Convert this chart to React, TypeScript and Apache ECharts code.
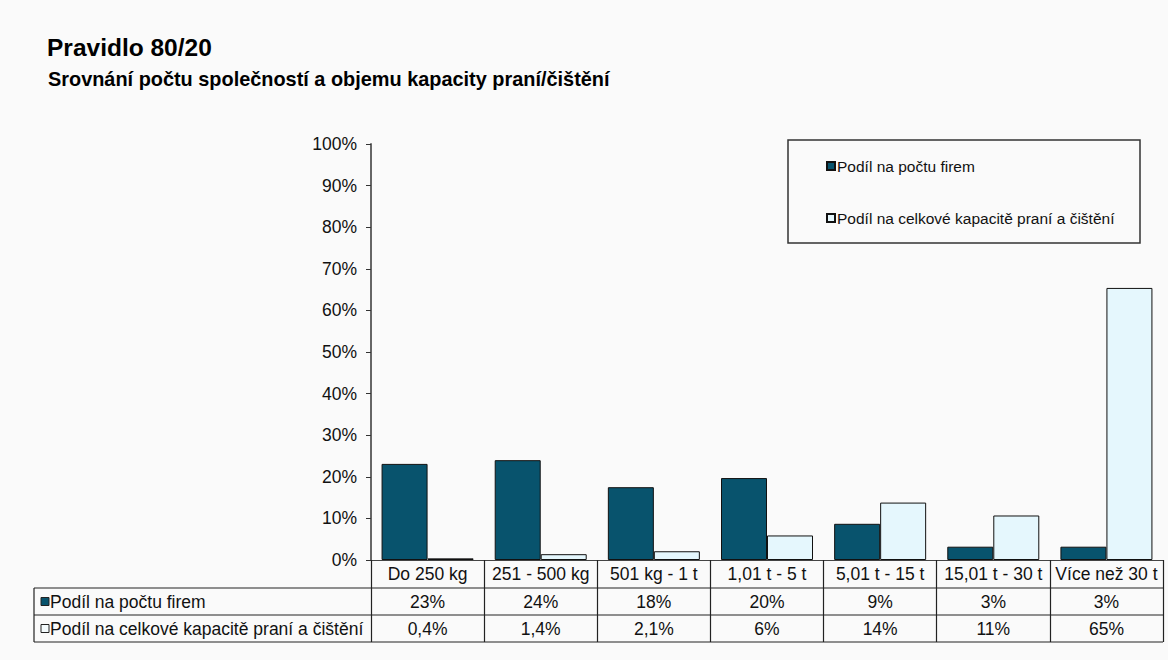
import React, { useEffect, useRef } from "react";
import * as echarts from "echarts";

const categories = ["Do 250 kg", "251 - 500 kg", "501 kg - 1 t", "1,01 t - 5 t", "5,01 t - 15 t", "15,01 t - 30 t", "Více než 30 t"];
const firmShare = [23.1, 24.0, 17.5, 19.7, 8.7, 3.2, 3.2];
const capacityShare = [0.4, 1.4, 2.1, 5.9, 13.8, 10.7, 65.4];
const firmShareLabels = ["23%", "24%", "18%", "20%", "9%", "3%", "3%"];
const capacityShareLabels = ["0,4%", "1,4%", "2,1%", "6%", "14%", "11%", "65%"];
const seriesNames = ["Podíl na počtu firem", "Podíl na celkové kapacitě praní a čištění"];
const titleText = "Pravidlo 80/20";
const subtitleText = "Srovnání počtu společností a objemu kapacity praní/čištění";

const FONT = "'Liberation Sans', Arial, Helvetica, sans-serif";
const DARK = "#08536d";
const LIGHT = "#e5f7fd";
const FS = 17.5;

export default function App() {
  const ref = useRef<HTMLDivElement>(null);
  useEffect(() => {
    if (!ref.current) return;
    const chart = echarts.init(ref.current, null, { renderer: "svg" });
    const gL = 371, gR = 1163, gT = 144, gB = 560;
    const tableLeft = 34;
    const rowLines = [588, 615, 642];
    const rowCenters = [601.5, 628.5];
    const rowColors = [DARK, "#f4fbfd"];

    const graphic: any[] = [
      { type: "text", x: 47, y: 47, style: { text: titleText, font: `bold 24.5px ${FONT}`, fill: "#000", textVerticalAlign: "middle" } },
      { type: "text", x: 48, y: 79, style: { text: subtitleText, font: `bold 19.9px ${FONT}`, fill: "#000", textVerticalAlign: "middle" } },
      { type: "rect", shape: { x: 788, y: 140, width: 352, height: 103 }, style: { fill: "transparent", stroke: "#333", lineWidth: 1.5 } },
      { type: "line", shape: { x1: tableLeft, y1: rowLines[0], x2: tableLeft, y2: rowLines[2] }, style: { stroke: "#222", lineWidth: 1.2 } },
    ];
    rowLines.forEach((y) => {
      graphic.push({ type: "line", shape: { x1: tableLeft, y1: y, x2: gR, y2: y }, style: { stroke: "#222", lineWidth: 1.2 } });
    });
    seriesNames.forEach((name, i) => {
      graphic.push({ type: "rect", shape: { x: 41, y: rowCenters[i] - 4, width: 8, height: 8 }, style: { fill: rowColors[i], stroke: "#222", lineWidth: 1 } });
      graphic.push({ type: "text", x: 50, y: rowCenters[i], style: { text: name, font: `${FS}px ${FONT}`, fill: "#111", textVerticalAlign: "middle" } });
    });

    const tableAxis = (data: string[], offset: number) => ({
      type: "category",
      data,
      gridIndex: 0,
      position: "bottom",
      offset,
      axisLine: { show: false },
      axisTick: { show: false },
      axisLabel: { interval: 0, margin: 5, fontSize: FS, fontFamily: FONT, color: "#111" },
    });

    chart.setOption({
      animation: false,
      backgroundColor: "#fafafa",
      textStyle: { fontFamily: FONT },
      grid: { left: gL, right: 1168 - gR, top: gT, bottom: 660 - gB, containLabel: false },
      legend: {
        orient: "vertical",
        left: 821,
        top: 153,
        itemGap: 36,
        itemWidth: 8,
        itemHeight: 8,
        icon: "rect",
        textStyle: { fontSize: 15.5, fontFamily: FONT, color: "#111", padding: [0, 0, 0, -3] },
        data: seriesNames,
      },
      xAxis: [
        {
          type: "category",
          data: categories,
          boundaryGap: true,
          axisLine: { show: true, lineStyle: { color: "#444", width: 1.2 } },
          axisTick: { show: true, length: 82, lineStyle: { color: "#222", width: 1.2 } },
          axisLabel: { interval: 0, margin: 5, fontSize: FS, fontFamily: FONT, color: "#111" },
        },
        tableAxis(firmShareLabels, 28),
        tableAxis(capacityShareLabels, 55),
      ],
      yAxis: {
        type: "value",
        min: 0,
        max: 100,
        interval: 10,
        axisLine: { show: true, lineStyle: { color: "#666", width: 2 } },
        axisTick: { show: true, length: 5, lineStyle: { color: "#333" } },
        splitLine: { show: false },
        axisLabel: { formatter: "{value}%", fontSize: FS, fontFamily: FONT, color: "#111", margin: 14 },
      },
      graphic,
      series: [
        {
          name: seriesNames[0],
          type: "bar",
          data: firmShare,
          barWidth: 46,
          barGap: "0%",
          itemStyle: { color: DARK, borderColor: "#111", borderWidth: 1 },
        },
        {
          name: seriesNames[1],
          type: "bar",
          data: capacityShare,
          barWidth: 46,
          barGap: "0%",
          itemStyle: { color: LIGHT, borderColor: "#111", borderWidth: 1 },
        },
      ],
    });
    return () => chart.dispose();
  }, []);
  return <div ref={ref} style={{ position: "absolute", left: 0, top: 0, width: 1168, height: 660 }} />;
}
